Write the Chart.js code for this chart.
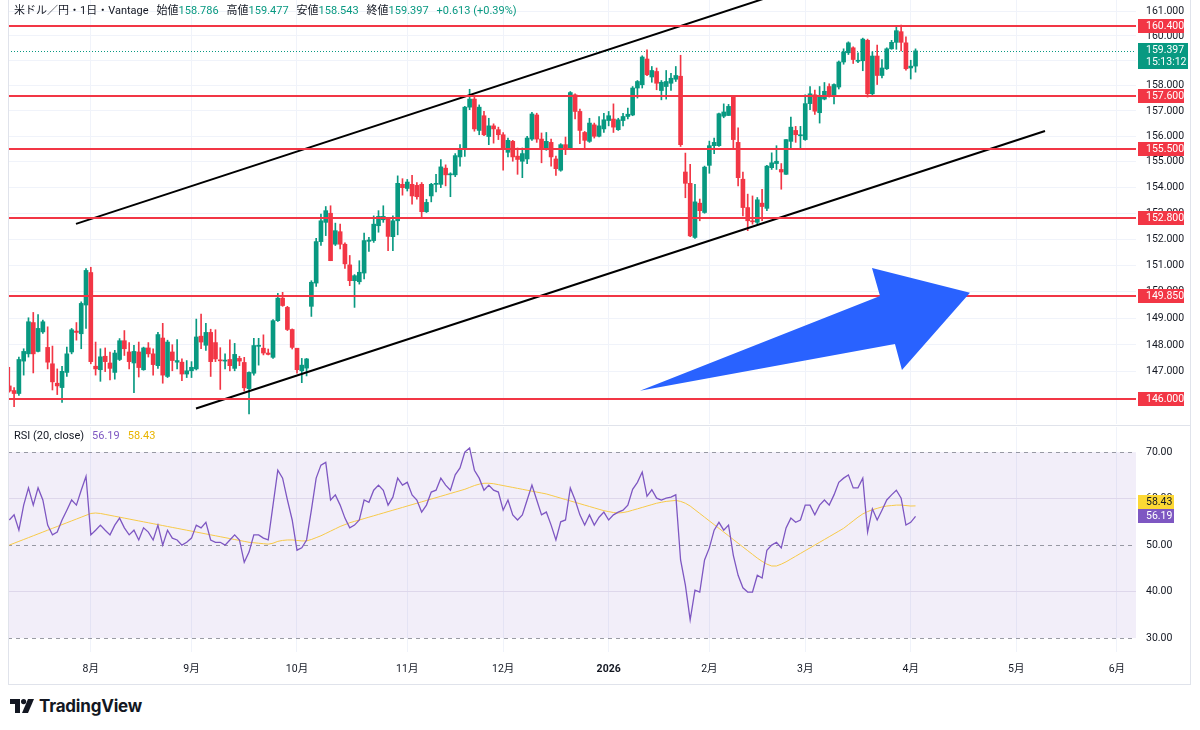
<!DOCTYPE html>
<html lang="ja">
<head>
<meta charset="utf-8">
<title>米ドル／円 日足</title>
<script src="https://cdn.jsdelivr.net/npm/chart.js@4.4.1/dist/chart.umd.min.js"></script>
<style>
  html, body { margin: 0; padding: 0; background: #fff; }
  body { width: 1200px; height: 730px; position: relative; overflow: hidden;
         font-family: Roboto, "Noto Sans CJK JP", sans-serif; color: #131722; }
  canvas { position: absolute; left: 0; }
  #priceChart { top: 0; }
  #rsiChart { top: 425px; }
  .frame { position: absolute; background: #e0e3eb; }
  .legend { position: absolute; left: 14px; font-size: 11px; white-space: nowrap; line-height: 14px; }
  .legend .gap { margin-left: 8px; }
  .up { color: #089981; }
  #brand { position: absolute; left: 10px; top: 696px; height: 20px; display: flex; align-items: center; }
  #brand span { font-family: Inter, Roboto, sans-serif; font-weight: 700; font-size: 17px; margin-left: 5px; letter-spacing: -0.2px; }
</style>
</head>
<body>
<canvas id="priceChart" width="1200" height="424"></canvas>
<canvas id="rsiChart" width="1200" height="262"></canvas>
<div class="frame" style="left:8px;top:0;width:1px;height:685px"></div>
<div class="frame" style="left:1190px;top:0;width:1px;height:685px"></div>
<div class="frame" style="left:8px;top:684px;width:1183px;height:1px"></div>
<div class="frame" style="left:8px;top:425px;width:1183px;height:1px"></div>
<div id="priceLegend" class="legend" style="top:4px"></div>
<div id="rsiLegend" class="legend" style="top:429px"></div>
<div id="brand">
  <svg width="24" height="14" viewBox="0 0 24 14"><path d="M0 0h10v14h-5v-9h-5z" fill="#131722"/><circle cx="13.6" cy="2.6" r="2.6" fill="#131722"/><path d="M18 0h6l-6 14h-6z" fill="#131722"/></svg>
  <span>TradingView</span>
</div>
<script>
// daily candles, oldest first (bar 0 = first visible day)
const opens = [146.48,146.31,146.20,147.40,147.67,148.84,147.76,148.49,147.91,147.30,
  146.58,146.42,146.98,147.74,148.52,148.42,149.50,150.73,147.21,147.08,
  147.58,147.33,146.98,147.46,148.16,147.74,147.33,147.74,147.08,147.89,
  147.67,147.23,148.26,146.83,147.74,147.36,147.36,146.92,147.04,147.11,
  148.33,147.99,148.47,148.09,147.43,147.40,147.46,147.13,147.50,147.35,
  146.38,146.95,147.95,147.88,147.70,147.54,148.91,149.76,149.41,148.58,
  147.88,147.04,147.14,149.45,150.33,151.91,152.65,153.00,151.81,152.29,
  151.81,151.02,150.42,150.38,150.71,151.92,151.95,152.52,152.75,152.84,
  152.10,152.71,154.12,153.96,154.12,154.08,154.12,153.06,153.67,154.12,
  154.12,154.75,154.49,154.49,155.19,155.50,157.15,157.47,156.23,156.81,
  155.99,156.41,156.26,156.06,155.37,155.80,155.22,155.02,155.11,155.89,
  156.84,155.89,155.48,155.76,155.11,154.67,155.67,155.50,157.64,156.98,
  156.15,155.80,156.45,156.00,156.29,156.62,156.68,156.26,156.62,156.78,
  156.84,157.91,158.04,159.07,158.35,158.57,157.81,157.97,158.10,158.26,
  158.38,154.60,154.16,152.07,153.39,153.03,154.86,155.63,155.63,156.79,
  156.82,157.54,155.76,154.32,153.22,152.71,152.65,153.39,153.19,154.77,
  154.93,154.70,154.51,155.80,156.23,156.02,155.87,157.29,157.64,156.93,
  157.47,157.97,157.60,157.95,158.95,159.32,159.52,158.98,159.00,159.82,
  157.68,159.19,158.41,158.68,159.48,159.74,160.17,159.72,158.71,158.786];
const highs = [147.17,146.42,147.55,147.86,149.02,149.22,149.14,148.93,148.68,147.96,
  147.11,147.21,147.92,148.62,148.84,149.62,150.88,150.93,148.11,147.86,
  147.89,147.74,147.80,148.24,148.54,148.09,147.99,148.11,147.92,148.09,
  147.86,148.47,148.81,148.18,148.01,148.20,147.48,147.42,147.38,148.97,
  149.16,148.81,148.59,148.57,147.90,147.67,148.19,148.06,147.58,147.54,
  147.00,148.25,148.25,148.38,147.85,148.95,149.94,149.98,149.45,148.60,
  147.88,147.50,147.50,150.42,152.04,152.97,153.26,153.29,152.62,152.58,
  151.86,151.38,150.65,151.18,152.24,152.07,152.90,153.10,153.29,152.84,
  152.90,154.45,154.34,154.31,154.47,154.19,154.19,153.54,154.16,154.51,
  155.09,154.88,154.57,155.32,155.67,157.18,157.86,157.55,157.24,156.98,
  156.71,156.49,156.36,156.15,155.93,155.84,155.54,155.54,156.00,156.94,
  156.91,156.13,156.15,155.89,155.22,155.71,155.97,157.77,157.68,157.07,
  156.19,156.71,156.52,156.78,156.91,156.98,157.28,156.71,156.91,157.11,
  157.97,158.21,159.20,159.44,158.77,158.71,158.21,158.61,158.50,158.77,
  159.22,155.34,154.90,154.12,153.55,154.83,155.81,155.93,156.92,157.28,
  157.26,157.60,156.33,154.60,153.74,153.67,153.61,153.93,154.86,155.35,
  155.63,154.93,155.87,156.76,156.39,156.39,157.64,157.97,157.83,157.97,
  158.13,158.08,158.08,158.99,159.48,159.76,159.56,159.32,159.91,159.87,
  159.36,159.63,159.05,159.52,159.82,160.40,160.44,159.96,159.02,159.477];
const lows = [146.25,145.72,146.13,146.88,147.55,146.96,147.74,148.43,147.11,146.33,
  146.16,145.87,146.83,147.67,148.18,147.86,148.62,147.30,146.88,146.65,
  147.01,146.70,146.73,147.42,147.61,147.11,146.23,146.81,147.06,147.55,
  146.88,147.13,146.58,146.79,147.04,147.11,146.67,146.79,146.79,147.07,
  147.86,147.80,146.83,147.38,146.35,147.11,147.04,147.04,147.23,146.29,
  145.45,146.88,147.25,147.63,147.63,147.50,148.88,149.45,148.54,147.85,
  146.95,146.60,146.85,149.07,150.20,151.76,152.14,151.18,151.76,151.63,
  150.89,150.23,149.41,150.29,150.49,151.53,151.88,152.27,152.65,151.56,
  151.56,152.17,153.70,153.86,153.35,153.54,152.80,153.03,153.44,153.83,
  153.99,154.06,153.64,154.42,154.83,155.21,157.05,156.20,156.06,156.02,
  155.67,155.73,155.87,154.67,155.19,155.02,154.51,154.38,154.93,155.84,
  155.76,154.96,155.45,154.83,154.47,154.63,155.28,155.48,156.68,155.71,
  155.54,155.76,155.93,155.97,156.15,156.41,156.15,156.23,156.41,156.68,
  156.81,157.51,157.91,158.40,158.14,157.84,157.44,157.47,157.81,158.17,
  155.60,153.60,152.10,152.03,152.71,153.00,154.55,155.32,155.60,156.73,
  156.82,155.54,154.06,152.90,152.33,152.58,152.58,152.71,153.10,154.70,
  154.70,153.93,154.51,155.48,155.76,155.54,155.84,157.05,156.86,156.52,
  157.44,157.55,157.28,157.87,158.86,159.25,158.89,158.92,158.60,157.55,
  157.64,158.05,158.31,158.65,159.46,159.46,159.39,158.62,158.27,158.543];
const closes = [146.29,146.20,147.46,147.76,148.87,147.67,148.62,148.87,147.36,146.63,
  146.48,147.02,147.67,148.57,148.47,149.56,150.81,147.38,147.11,147.56,
  147.38,147.13,147.70,148.16,147.86,147.38,147.76,147.16,147.89,147.67,
  147.27,148.39,146.88,148.11,147.42,147.42,146.92,147.04,147.17,148.30,
  148.11,148.47,147.38,147.48,147.41,147.43,147.23,147.65,147.40,146.41,
  146.98,147.98,147.99,147.70,147.65,148.91,149.76,149.48,148.58,147.91,
  147.08,147.25,147.48,150.36,151.91,152.71,153.10,151.18,152.33,151.81,
  151.06,150.42,150.61,150.74,151.95,151.97,152.58,152.88,152.88,152.11,
  152.71,154.16,153.99,154.21,153.67,153.64,153.06,153.42,154.12,154.16,
  154.80,154.49,154.52,155.24,155.50,157.15,157.47,156.29,157.15,156.06,
  156.41,156.29,156.06,155.50,155.84,155.19,155.09,155.32,155.93,156.88,
  155.89,155.50,155.80,155.19,154.73,155.67,155.50,157.73,156.98,156.23,
  155.84,156.52,156.00,156.41,156.65,156.81,156.36,156.65,156.78,156.87,
  157.91,158.17,159.15,158.44,158.61,158.10,158.14,158.17,158.30,158.41,
  155.67,154.16,152.13,153.44,153.10,154.79,155.63,155.76,156.89,156.96,
  157.18,155.87,154.38,153.22,152.71,152.67,153.52,153.26,154.83,154.96,
  155.02,154.60,155.87,156.36,156.06,156.06,157.29,157.68,156.99,157.54,
  157.78,157.60,158.05,158.95,159.35,159.72,159.05,159.02,159.87,157.68,
  159.19,158.41,158.71,159.48,159.74,160.21,159.74,158.68,158.784,159.397];

// RSI(20) and its moving average, one value per bar
const rsiValues = [55.4,56.5,53.2,58.6,62.3,58.6,62.3,59.7,54.3,52.2,
  52.8,55.4,57.5,59.7,58.6,61.8,64.8,52.2,53.2,54.3,
  53.2,52.2,54.3,55.8,53.7,52.2,53.2,51.1,53.7,52.8,
  51.1,54.3,50.0,53.2,51.5,51.1,50.0,50.6,51.5,54.3,
  53.7,54.9,51.1,50.6,50.6,50.0,51.1,52.2,51.1,46.3,
  48.5,52.2,52.2,51.5,51.1,58.6,66.1,64.4,59.7,55.4,
  48.9,49.4,51.1,57.5,64.4,67.2,67.8,59.7,60.8,58.6,
  55.8,53.7,54.3,55.4,59.7,59.2,61.8,62.9,61.8,58.6,
  60.3,64.4,62.9,63.5,60.8,59.7,57.1,58.6,61.4,61.8,
  64.4,62.9,61.8,65.1,66.6,70.0,70.9,66.1,64.4,61.8,
  62.9,61.8,61.4,57.5,59.7,56.5,55.4,56.5,59.7,62.9,
  59.7,56.5,57.1,54.3,51.1,55.0,55.4,62.3,59.7,56.5,
  54.3,56.5,54.3,56.0,57.1,55.4,56.5,57.1,57.5,58.6,
  62.0,63.5,65.7,60.5,61.9,60.1,59.7,60.1,60.3,60.8,
  46.8,41.4,33.9,40.3,39.9,46.8,49.4,53.2,54.9,53.2,
  54.3,47.8,43.5,40.8,39.9,39.9,43.5,42.9,48.9,50.0,
  50.6,49.4,53.7,55.8,54.9,55.4,58.6,58.6,56.5,58.6,
  59.7,58.6,60.8,63.5,64.4,65.1,62.3,62.3,64.4,52.8,
  57.8,55.4,57.5,59.7,60.8,61.8,60.1,54.3,54.9,56.19];
const rsiMa = [50.0,50.4,50.8,51.2,51.6,52.0,52.4,52.8,53.2,53.6,
  54.0,54.4,54.8,55.2,55.6,56.0,56.4,56.8,56.9,56.8,
  56.6,56.4,56.2,56.0,55.8,55.6,55.4,55.2,55.0,54.8,
  54.6,54.4,54.2,54.0,53.8,53.6,53.4,53.2,53.0,52.8,
  52.6,52.4,52.2,52.0,51.8,51.6,51.4,51.2,51.0,50.8,
  50.6,50.5,50.4,50.3,50.2,50.4,50.8,51.0,51.1,51.1,
  51.0,50.9,50.9,51.2,51.6,52.0,52.5,53.0,53.5,54.0,
  54.4,54.8,55.1,55.4,55.7,56.0,56.3,56.6,56.9,57.2,
  57.5,57.8,58.1,58.4,58.7,59.0,59.3,59.6,59.9,60.2,
  60.5,60.8,61.1,61.4,61.7,62.0,62.4,62.8,63.1,63.3,
  63.3,63.2,63.0,62.8,62.6,62.4,62.2,62.0,61.8,61.6,
  61.4,61.2,61.0,60.7,60.4,60.1,59.8,59.5,59.2,58.9,
  58.6,58.3,58.0,57.7,57.4,57.2,57.0,56.9,57.0,57.2,
  57.5,57.8,58.1,58.4,58.7,59.0,59.2,59.4,59.5,59.6,
  59.4,59.0,58.4,57.6,56.8,56.0,55.2,54.4,53.6,52.8,
  52.0,51.2,50.4,49.6,48.8,48.0,47.2,46.5,45.9,45.5,
  45.5,45.9,46.4,47.0,47.6,48.2,48.8,49.4,50.0,50.6,
  51.2,51.8,52.4,53.0,53.6,54.4,55.2,56.0,56.7,57.2,
  57.6,57.9,58.2,58.4,58.5,58.6,58.6,58.5,58.4,58.43];

// time axis: bar index of the first session of each month
const monthTicks = [17, 38, 60, 83, 103, 125, 146, 166, 188, 210, 231];
const monthLabels = ['8月', '9月', '10月', '11月', '12月', '2026', '2月', '3月', '4月', '5月', '6月'];
const priceTicks = [146, 147, 148, 149, 150, 151, 152, 153, 154, 155, 156, 157, 158, 159, 160, 161];
const rsiTicks = [30, 40, 50, 60, 70];

// drawings (bar index, price)
const levels = [160.4, 157.6, 155.5, 152.8, 149.85, 146.0];
const upperTrend = [{x: 13.91, y: 152.59}, {x: 169.28, y: 162.27}];
const lowerTrend = [{x: 38.94, y: 145.65}, {x: 216.0, y: 156.21}];
const arrowShape = [{x: 131.53, y: 146.30}, {x: 181.59, y: 149.84}, {x: 179.92, y: 150.90},
                    {x: 200.35, y: 149.96}, {x: 186.17, y: 147.07}, {x: 184.71, y: 148.04}];
const countdown = '15:13:12';

const UP = '#089981', DOWN = '#F23645', GRID = '#F0F3FA', TEXT = '#131722';
const RSI_COLOR = '#7E57C2', MA_COLOR = '#F7C948';
const FONT = 'Roboto, "Noto Sans CJK JP", sans-serif';
const xMin = -0.27, xMax = 234.98;

const bars = opens.map((_, i) => i);
const candleColors = bars.map(i => closes[i] >= opens[i] ? UP : DOWN);
const last = bars.length - 1;

// legends
const chg = closes[last] - closes[last - 1];
document.getElementById('priceLegend').innerHTML =
  '米ドル／円・1日・Vantage' +
  '<span class="gap">始値</span><span class="up">' + opens[last].toFixed(3) + '</span>' +
  '<span class="gap">高値</span><span class="up">' + highs[last].toFixed(3) + '</span>' +
  '<span class="gap">安値</span><span class="up">' + lows[last].toFixed(3) + '</span>' +
  '<span class="gap">終値</span><span class="up">' + closes[last].toFixed(3) + '</span>' +
  '<span class="gap up">' + (chg >= 0 ? '+' : '') + chg.toFixed(3) + ' (' + (chg >= 0 ? '+' : '') +
  (chg / closes[last - 1] * 100).toFixed(2) + '%)</span>';
document.getElementById('rsiLegend').innerHTML =
  'RSI (20, close)<span class="gap" style="color:' + RSI_COLOR + '">' + rsiValues[last].toFixed(2) +
  '</span><span class="gap" style="color:#E8B400">' + rsiMa[last].toFixed(2) + '</span>';

// scales keep no extra label padding so the plot fills its box exactly
function noPad(s) { s.paddingTop = 0; s.paddingBottom = 0; s.paddingLeft = 0; s.paddingRight = 0; }

function monthAxis(showLabels, height) {
  return {
    type: 'linear', min: xMin, max: xMax, offset: false, bounds: 'data',
    afterBuildTicks: s => { s.ticks = monthTicks.map(v => ({value: v})); },
    ticks: {
      display: showLabels, autoSkip: false, maxRotation: 0, padding: 11, color: TEXT,
      callback: v => monthLabels[monthTicks.indexOf(v)],
      font: c => ({family: FONT, size: 10.5, weight: c.tick && c.tick.value === monthTicks[5] ? 'bold' : 'normal'})
    },
    grid: {color: GRID, drawTicks: false, offset: false},
    border: {display: false},
    afterFit: s => { s.height = height; noPad(s); }
  };
}

function tagBox(ctx, x, yc, h, bg, fg, lines) {
  ctx.fillStyle = bg;
  ctx.fillRect(x, yc - h / 2, lines.w, h);
  ctx.fillStyle = fg;
  ctx.textBaseline = 'middle';
  ctx.textAlign = 'left';
  lines.t.forEach((t, k) => ctx.fillText(t, x + 8, yc - (lines.t.length - 1) * 6 + k * 12));
}

const priceOverlay = {
  id: 'priceOverlay',
  beforeDatasetsDraw(chart) {
    const {ctx, chartArea: a, scales: {y}} = chart;
    const py = Math.round(y.getPixelForValue(closes[last])) + 0.5;
    ctx.save();
    ctx.strokeStyle = UP;
    ctx.lineWidth = 1;
    ctx.setLineDash([1, 2]);
    ctx.beginPath(); ctx.moveTo(a.left, py); ctx.lineTo(a.right, py); ctx.stroke();
    ctx.restore();
  },
  afterDatasetsDraw(chart) {
    const {ctx, chartArea: a, scales: {x, y}} = chart;
    ctx.save();
    ctx.beginPath(); ctx.rect(a.left, a.top, a.right - a.left, a.bottom - a.top); ctx.clip();
    ctx.strokeStyle = DOWN;
    ctx.lineWidth = 2;
    levels.forEach(v => {
      const py = Math.round(y.getPixelForValue(v));
      ctx.beginPath(); ctx.moveTo(a.left, py); ctx.lineTo(a.right, py); ctx.stroke();
    });
    ctx.beginPath();
    arrowShape.forEach((p, k) => {
      const px = x.getPixelForValue(p.x), py = y.getPixelForValue(p.y);
      if (k) ctx.lineTo(px, py); else ctx.moveTo(px, py);
    });
    ctx.closePath();
    ctx.fillStyle = '#2962FF';
    ctx.fill();
    ctx.restore();
  },
  afterDraw(chart) {
    const {ctx, chartArea: a, scales: {y}} = chart;
    ctx.save();
    ctx.font = '10.5px ' + FONT;
    levels.forEach(v => {
      tagBox(ctx, a.right + 2, Math.round(y.getPixelForValue(v)), 14, DOWN, '#fff', {w: 46, t: [v.toFixed(3)]});
    });
    const py = Math.round(y.getPixelForValue(closes[last]));
    tagBox(ctx, a.right + 2, py + 5, 26, UP, '#fff', {w: 50, t: [closes[last].toFixed(3), countdown]});
    ctx.restore();
  }
};

new Chart(document.getElementById('priceChart'), {
  type: 'bar',
  data: {
    datasets: [
      {label: 'wick', data: bars.map(i => ({x: i, y: [lows[i], highs[i]]})), backgroundColor: candleColors,
       barThickness: 1, grouped: false, clip: 0, order: 3},
      {label: 'body', data: bars.map(i => ({x: i, y: [opens[i], closes[i]]})), backgroundColor: candleColors,
       barThickness: 4, minBarLength: 1, grouped: false, clip: 0, order: 2},
      {type: 'line', label: 'upper', data: upperTrend, borderColor: '#000', borderWidth: 2, pointRadius: 0, order: 1},
      {type: 'line', label: 'lower', data: lowerTrend, borderColor: '#000', borderWidth: 2, pointRadius: 0, order: 1}
    ]
  },
  options: {
    responsive: false, animation: false, events: [],
    layout: {padding: {left: 8, right: 0, top: 0, bottom: 0}},
    plugins: {legend: {display: false}, tooltip: {enabled: false}},
    scales: {
      x: monthAxis(false, 0),
      y: {
        type: 'logarithmic', position: 'right', min: 145.08, max: 161.455, bounds: 'data',
        afterBuildTicks: s => { s.ticks = priceTicks.map(v => ({value: v})); },
        ticks: {callback: v => v.toFixed(3), color: TEXT, font: {family: FONT, size: 10.5}, padding: 10, autoSkip: false},
        grid: {color: GRID, drawTicks: false},
        border: {display: false},
        afterFit: s => { s.width = 64; noPad(s); }
      }
    }
  },
  plugins: [priceOverlay]
});

const rsiOverlay = {
  id: 'rsiOverlay',
  beforeDatasetsDraw(chart) {
    const {ctx, chartArea: a, scales: {y}} = chart;
    const top = y.getPixelForValue(70), bot = y.getPixelForValue(30);
    ctx.save();
    ctx.fillStyle = 'rgba(126,87,194,0.1)';
    ctx.fillRect(a.left, top, a.right - a.left, bot - top);
    ctx.strokeStyle = 'rgba(120,123,134,0.75)';
    ctx.lineWidth = 1;
    ctx.setLineDash([4, 4]);
    [70, 50, 30].forEach(v => {
      const py = Math.round(y.getPixelForValue(v)) + 0.5;
      ctx.beginPath(); ctx.moveTo(a.left, py); ctx.lineTo(a.right, py); ctx.stroke();
    });
    ctx.restore();
  },
  afterDraw(chart) {
    const {ctx, chartArea: a, scales: {y}} = chart;
    ctx.save();
    ctx.font = '10.5px ' + FONT;
    const pr = Math.round(y.getPixelForValue(rsiValues[last]));
    let pm = Math.round(y.getPixelForValue(rsiMa[last]));
    if (pm > pr - 14) pm = pr - 14;
    tagBox(ctx, a.right + 2, pm, 14, '#FDD835', TEXT, {w: 36, t: [rsiMa[last].toFixed(2)]});
    tagBox(ctx, a.right + 2, pr, 14, RSI_COLOR, '#fff', {w: 36, t: [rsiValues[last].toFixed(2)]});
    ctx.restore();
  }
};

new Chart(document.getElementById('rsiChart'), {
  type: 'line',
  data: {
    datasets: [
      {label: 'RSI', data: bars.map(i => ({x: i, y: rsiValues[i]})), borderColor: RSI_COLOR, borderWidth: 1.3, pointRadius: 0, order: 1},
      {label: 'MA', data: bars.map(i => ({x: i, y: rsiMa[i]})), borderColor: MA_COLOR, borderWidth: 1, pointRadius: 0, order: 2}
    ]
  },
  options: {
    responsive: false, animation: false, events: [],
    layout: {padding: {left: 8, right: 0, top: 2, bottom: 0}},
    plugins: {legend: {display: false}, tooltip: {enabled: false}},
    scales: {
      x: monthAxis(true, 35),
      y: {
        position: 'right', min: 27, max: 75.4, bounds: 'data',
        afterBuildTicks: s => { s.ticks = rsiTicks.map(v => ({value: v})); },
        ticks: {callback: v => v.toFixed(2), color: TEXT, font: {family: FONT, size: 10.5}, padding: 10},
        grid: {color: c => (c.tick && (c.tick.value === 40 || c.tick.value === 60)) ? '#E9E6F0' : 'rgba(0,0,0,0)', drawTicks: false},
        border: {display: false},
        afterFit: s => { s.width = 64; noPad(s); }
      }
    }
  },
  plugins: [rsiOverlay]
});
</script>
</body>
</html>
